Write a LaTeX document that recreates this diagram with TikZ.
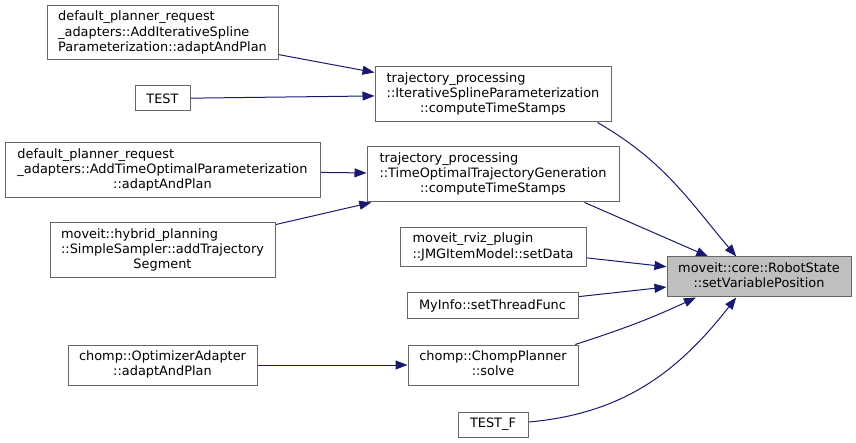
\documentclass[tikz,border=0pt]{standalone}
\usepackage{fontspec}
\setmainfont{DejaVu Sans}
\usepackage{xcolor}
\usetikzlibrary{arrows.meta}
\usetikzlibrary{positioning}
\pgfdeclarelayer{edgelayer}
\pgfdeclarelayer{nodelayer}
\pgfsetlayers{edgelayer,nodelayer,main}
\definecolor{edgeblue}{HTML}{191970}
\definecolor{boxgray}{HTML}{666666}
\definecolor{hilite}{HTML}{BFBFBF}
\tikzstyle{fn}=[draw=boxgray,fill=white,line width=1pt,inner sep=0pt,font=\fontsize{12.9}{15.2}\selectfont]
\tikzstyle{cur}=[fn,fill=hilite]
\tikzstyle{call}=[draw=edgeblue,line width=1pt,-{Triangle[length=12pt,width=9pt]},edgeblue]
% all lines left, the last one centred
\newcommand{\fnlabel}[2]{\begin{tabular}{@{}l@{}}#1\\\multicolumn{1}{@{}c@{}}{#2}\end{tabular}}

\begin{document}
\begin{tikzpicture}[x=1pt,y=1pt]
	\useasboundingbox (0,0) rectangle (856,-443);
	\begin{pgfonlayer}{nodelayer}
		\node [style=cur,minimum width=184pt,minimum height=40pt] (tgt) at (759,-277) {\fnlabel{moveit::core::RobotState}{::setVariablePosition}};
		\node [style=fn,minimum width=236pt,minimum height=55pt] (isp) at (493,-94.5) {\fnlabel{trajectory\_processing\\::IterativeSplineParameterization}{::computeTimeStamps}};
		\node [style=fn,minimum width=252pt,minimum height=55pt] (topt) at (493,-174.5) {\fnlabel{trajectory\_processing\\::TimeOptimalTrajectoryGeneration}{::computeTimeStamps}};
		\node [style=fn,minimum width=186pt,minimum height=39pt] (rviz) at (493,-247.5) {\fnlabel{moveit\_rviz\_plugin}{::JMGItemModel::setData}};
		\node [style=fn,minimum width=171pt,minimum height=26pt] (info) at (492.5,-306) {MyInfo::setThreadFunc};
		\node [style=fn,minimum width=170pt,minimum height=40pt] (chp) at (493,-365) {\fnlabel{chomp::ChompPlanner}{::solve}};
		\node [style=fn,minimum width=70pt,minimum height=25pt] (testf) at (493,-424.5) {TEST\_F};
		\node [style=fn,minimum width=231pt,minimum height=54pt] (aisp) at (162.5,-33) {\fnlabel{default\_planner\_request\\\_adapters::AddIterativeSpline}{Parameterization::adaptAndPlan}};
		\node [style=fn,minimum width=55pt,minimum height=25pt] (test) at (162.5,-98.5) {TEST};
		\node [style=fn,minimum width=315pt,minimum height=55pt] (atop) at (162.5,-170.5) {\fnlabel{default\_planner\_request\\\_adapters::AddTimeOptimalParameterization}{::adaptAndPlan}};
		\node [style=fn,minimum width=225pt,minimum height=55pt] (hyb) at (162.5,-250.5) {\fnlabel{moveit::hybrid\_planning\\::SimpleSampler::addTrajectory}{Segment}};
		\node [style=fn,minimum width=189pt,minimum height=40pt] (opt) at (162.5,-365) {\fnlabel{chomp::OptimizerAdapter}{::adaptAndPlan}};
	\end{pgfonlayer}
	\begin{pgfonlayer}{edgelayer}
		\draw [style=call] (aisp) to (isp);
		\draw [style=call] (test) to (isp);
		\draw [style=call] (atop) to (topt);
		\draw [style=call] (hyb) to (topt);
		\draw [style=call] (opt) to (chp);
		\draw [style=call] (isp.-15) to[out=-30,in=130] (tgt.138);
		\draw [style=call] (topt.-17) to (tgt.158);
		\draw [style=call] (rviz) to (tgt);
		\draw [style=call] (info) to (tgt);
		\draw [style=call] (chp.14) to[out=18,in=-155] (tgt.198);
		\draw [style=call] (testf.4) to[out=5,in=-128] (tgt.-138);
	\end{pgfonlayer}
\end{tikzpicture}
\end{document}
